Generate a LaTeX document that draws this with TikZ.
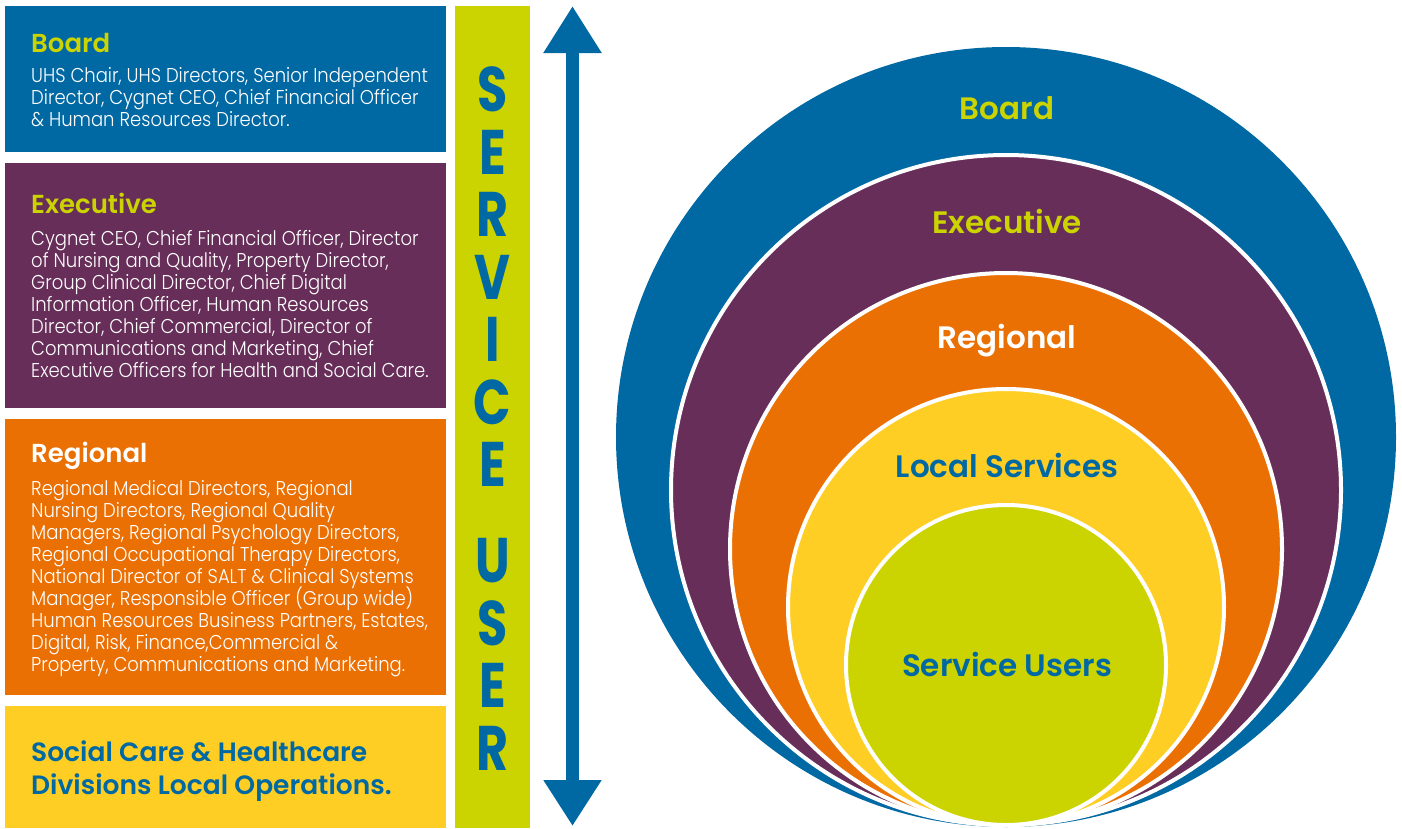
\documentclass[tikz,border=0pt]{standalone}
\usepackage{fontspec}
\usetikzlibrary{arrows.meta}
\setmainfont{Poppins}
\newfontfamily\bodyfont{Poppins}[UprightFont=* Light, FakeStretch=0.9]
\newfontfamily\headfont{Poppins}[UprightFont=* SemiBold]
\newfontfamily\letterfont{Poppins}[UprightFont=* Bold, FakeStretch=0.78]
\newcommand\bodysetup{\bodyfont\fontsize{20}{22}\selectfont\setlength{\lineskiplimit}{-30pt}}
\definecolor{cblue}{HTML}{0068A3}
\definecolor{cpurple}{HTML}{672E59}
\definecolor{corange}{HTML}{EB7004}
\definecolor{cyellow}{HTML}{FECE24}
\definecolor{clime}{HTML}{CBD300}
\tikzset{
  panel/.style={rectangle, inner sep=0pt, outer sep=0pt, anchor=north west, minimum width=441pt},
  lefthead/.style={inner sep=0pt, anchor=base west, font=\headfont\fontsize{26}{30}\selectfont},
  bodytext/.style={inner sep=0pt, anchor=base west, align=left, text=white, font=\bodysetup},
  ring/.style={circle, inner sep=0pt, outer sep=0pt, draw=white, line width=4pt},
  ringlabel/.style={inner sep=0pt, anchor=base, font=\headfont\fontsize{31}{36}\selectfont},
  bigarrow/.style={draw=cblue, line width=13pt, {Triangle[width=55pt,length=47pt]}-{Triangle[width=55pt,length=46pt]}}
}
\begin{document}
\begin{tikzpicture}[x=1pt,y=-1pt]
\useasboundingbox (0,0) rectangle (1402,828);
% left panels
\node[panel, fill=cblue, minimum height=146pt] (pboard) at (5,6) {};
\node[panel, fill=cpurple, minimum height=245pt] (pexec) at (5,163) {};
\node[panel, fill=corange, minimum height=276pt] (preg) at (5,419) {};
\node[panel, fill=cyellow, minimum height=122pt] (ploc) at (5,706) {};
% headings
\node[lefthead, text=clime] (hboard) at (31,52) {Board};
\node[lefthead, text=clime] (hexec) at (31,213) {Executive};
\node[lefthead, text=white] (hreg) at (31,462) {Regional};
% bodies (anchor = baseline of last line)
\node[bodytext] (bboard) at (31,126) {UHS Chair, UHS Directors, Senior Independent\\
Director, Cygnet CEO, Chief Financial Officer\\
\& Human Resources Director.};
\node[bodytext] (bexec) at (31,377) {Cygnet CEO, Chief Financial Officer, Director\\
of Nursing and Quality, Property Director,\\
Group Clinical Director, Chief Digital\\
Information Officer, Human Resources\\
Director, Chief Commercial, Director of\\
Communications and Marketing, Chief\\
Executive Officers for Health and Social Care.};
\node[bodytext] (breg) at (31,671) {Regional Medical Directors, Regional\\
Nursing Directors, Regional Quality\\
Managers, Regional Psychology Directors,\\
Regional Occupational Therapy Directors,\\
National Director of SALT \& Clinical Systems\\
Manager, Responsible Officer (Group wide)\\
Human Resources Business Partners, Estates,\\
Digital, Risk, Finance,Commercial \&\\
Property, Communications and Marketing.};
\node[inner sep=0pt, anchor=base west, align=left, text=cblue, font=\headfont\fontsize{26.5}{33}\selectfont] (bloc) at (31,794) {Social Care \& Healthcare\\
Divisions Local Operations.};
% service user bar
\node[panel, fill=clime, minimum width=75pt, minimum height=822pt] (bar) at (455,6) {};
\node[inner sep=0pt, anchor=base, align=center, text=cblue, font=\letterfont\fontsize{63}{62.5}\selectfont] (suser) at (492.5,770)
  {S\\E\\R\\V\\I\\C\\E\\[33.5pt]U\\S\\E\\R};
% arrow
\coordinate (atop) at (572.5,6);
\coordinate (abot) at (572.5,826);
\draw[bigarrow] (atop) -- (abot);
% circles
\node[circle, inner sep=0pt, outer sep=0pt, fill=cblue, minimum size=780pt] (cboard) at (1006,437) {};
\node[ring, fill=cpurple, minimum size=670pt] (cexec) at (1006,490) {};
\node[ring, fill=corange, minimum size=552pt] (creg) at (1006,549) {};
\node[ring, fill=cyellow, minimum size=436pt] (cloc) at (1006,607) {};
\node[ring, fill=clime, minimum size=320pt] (cuser) at (1006,665) {};
\node[ringlabel, text=clime] (lboard) at (1007,119) {Board};
\node[ringlabel, text=clime] (lexec) at (1007,233) {Executive};
\node[ringlabel, text=white] (lreg) at (1007,348) {Regional};
\node[ringlabel, text=cblue] (lloc) at (1007,477) {Local Services};
\node[ringlabel, text=cblue] (luser) at (1007,676) {Service Users};
\end{tikzpicture}
\end{document}
